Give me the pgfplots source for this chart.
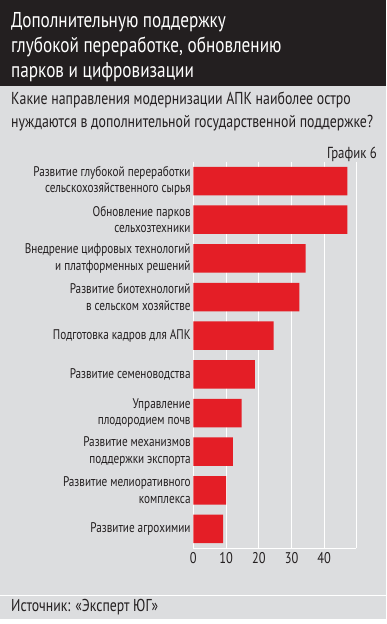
\documentclass[border=0pt]{standalone}
\usepackage{fontspec}
\setmainfont{PT Sans}[FakeStretch=0.8]
\usepackage{pgfplots}
\pgfplotsset{compat=1.18}
\definecolor{bgdark}{RGB}{35,31,32}
\definecolor{bggrey}{RGB}{220,221,223}
\definecolor{barred}{RGB}{228,30,38}
\definecolor{txt}{RGB}{35,31,32}
\begin{document}
\begin{tikzpicture}
\useasboundingbox (0pt,0pt) rectangle (386pt,-624pt);
\fill[white] (0pt,0pt) rectangle (386pt,-624pt);
\fill[bggrey] (0pt,-86pt) rectangle (386pt,-594.5pt);
\fill[bggrey] (0pt,-596pt) rectangle (386pt,-619pt);
\fill[bgdark] (0pt,0pt) rectangle (386pt,-86pt);
\begin{scope}[every node/.style={anchor=base west, inner sep=0pt}]
\node[white, font=\fontsize{21.5}{25}\selectfont] at (11pt,-27pt) {Дополнительную поддержку};
\node[white, font=\fontsize{21.5}{25}\selectfont] at (11pt,-52pt) {глубокой переработке, обновлению};
\node[white, font=\fontsize{21.5}{25}\selectfont] at (11pt,-77pt) {парков и цифровизации};
\node[txt, font=\fontsize{17.3}{22}\selectfont] at (11pt,-104pt) {Какие направления модернизации АПК наиболее остро};
\node[txt, font=\fontsize{17.3}{22}\selectfont] at (11pt,-127pt) {нуждаются в дополнительной государственной поддержке?};
\node[txt, font=\fontsize{17.2}{18}\selectfont] at (11pt,-611.5pt) {Источник: «Эксперт ЮГ»};
\node[txt, font=\fontsize{16}{17}\selectfont, anchor=base east] at (377pt,-158pt) {График 6};
\end{scope}
\begin{axis}[
  at={(193.3pt,-548.3pt)}, anchor=south west,
  scale only axis, width=162.7pt, height=386.6pt,
  xbar, bar width=28.5pt, bar shift=0pt,
  y dir=reverse,
  xmin=0, xmax=49.7, ymin=-0.5, ymax=9.5,
  xtick={0,10,20,30,40},
  extra x ticks={49.7}, extra x tick labels={},
  extra x tick style={grid=major, major tick length=0pt},
  xmajorgrids, grid style={white, line width=0.8pt},
  axis x line*=bottom, axis y line*=left,
  axis line style={white, line width=0.8pt, -},
  tick style={draw=none}, major tick length=0pt,
  ytick={0,...,9},
  yticklabels={
    {Развитие глубокой переработки\\сельскохозяйственного сырья},
    {Обновление парков\\сельхозтехники},
    {Внедрение цифровых технологий\\и платформенных решений},
    {Развитие биотехнологий\\в сельском хозяйстве},
    {Подготовка кадров для АПК},
    {Развитие семеноводства},
    {Управление\\плодородием почв},
    {Развитие механизмов\\поддержки экспорта},
    {Развитие мелиоративного\\комплекса},
    {Развитие агрохимии}},
  yticklabel style={align=right, font=\fontsize{14}{16.5}\selectfont, text=txt, inner sep=1pt, xshift=-1.5pt},
  xticklabel style={font=\fontsize{15.5}{18}\selectfont, text=txt, yshift=-1pt},
  /pgf/number format/assume math mode=true,
]
\addplot[fill=barred, draw=none] coordinates {
(47.1,0) (47.1,1) (34.3,2) (32.4,3) (24.5,4) (18.8,5) (14.8,6) (12.1,7) (10.0,8) (9.1,9)};
\end{axis}
\end{tikzpicture}
\end{document}
